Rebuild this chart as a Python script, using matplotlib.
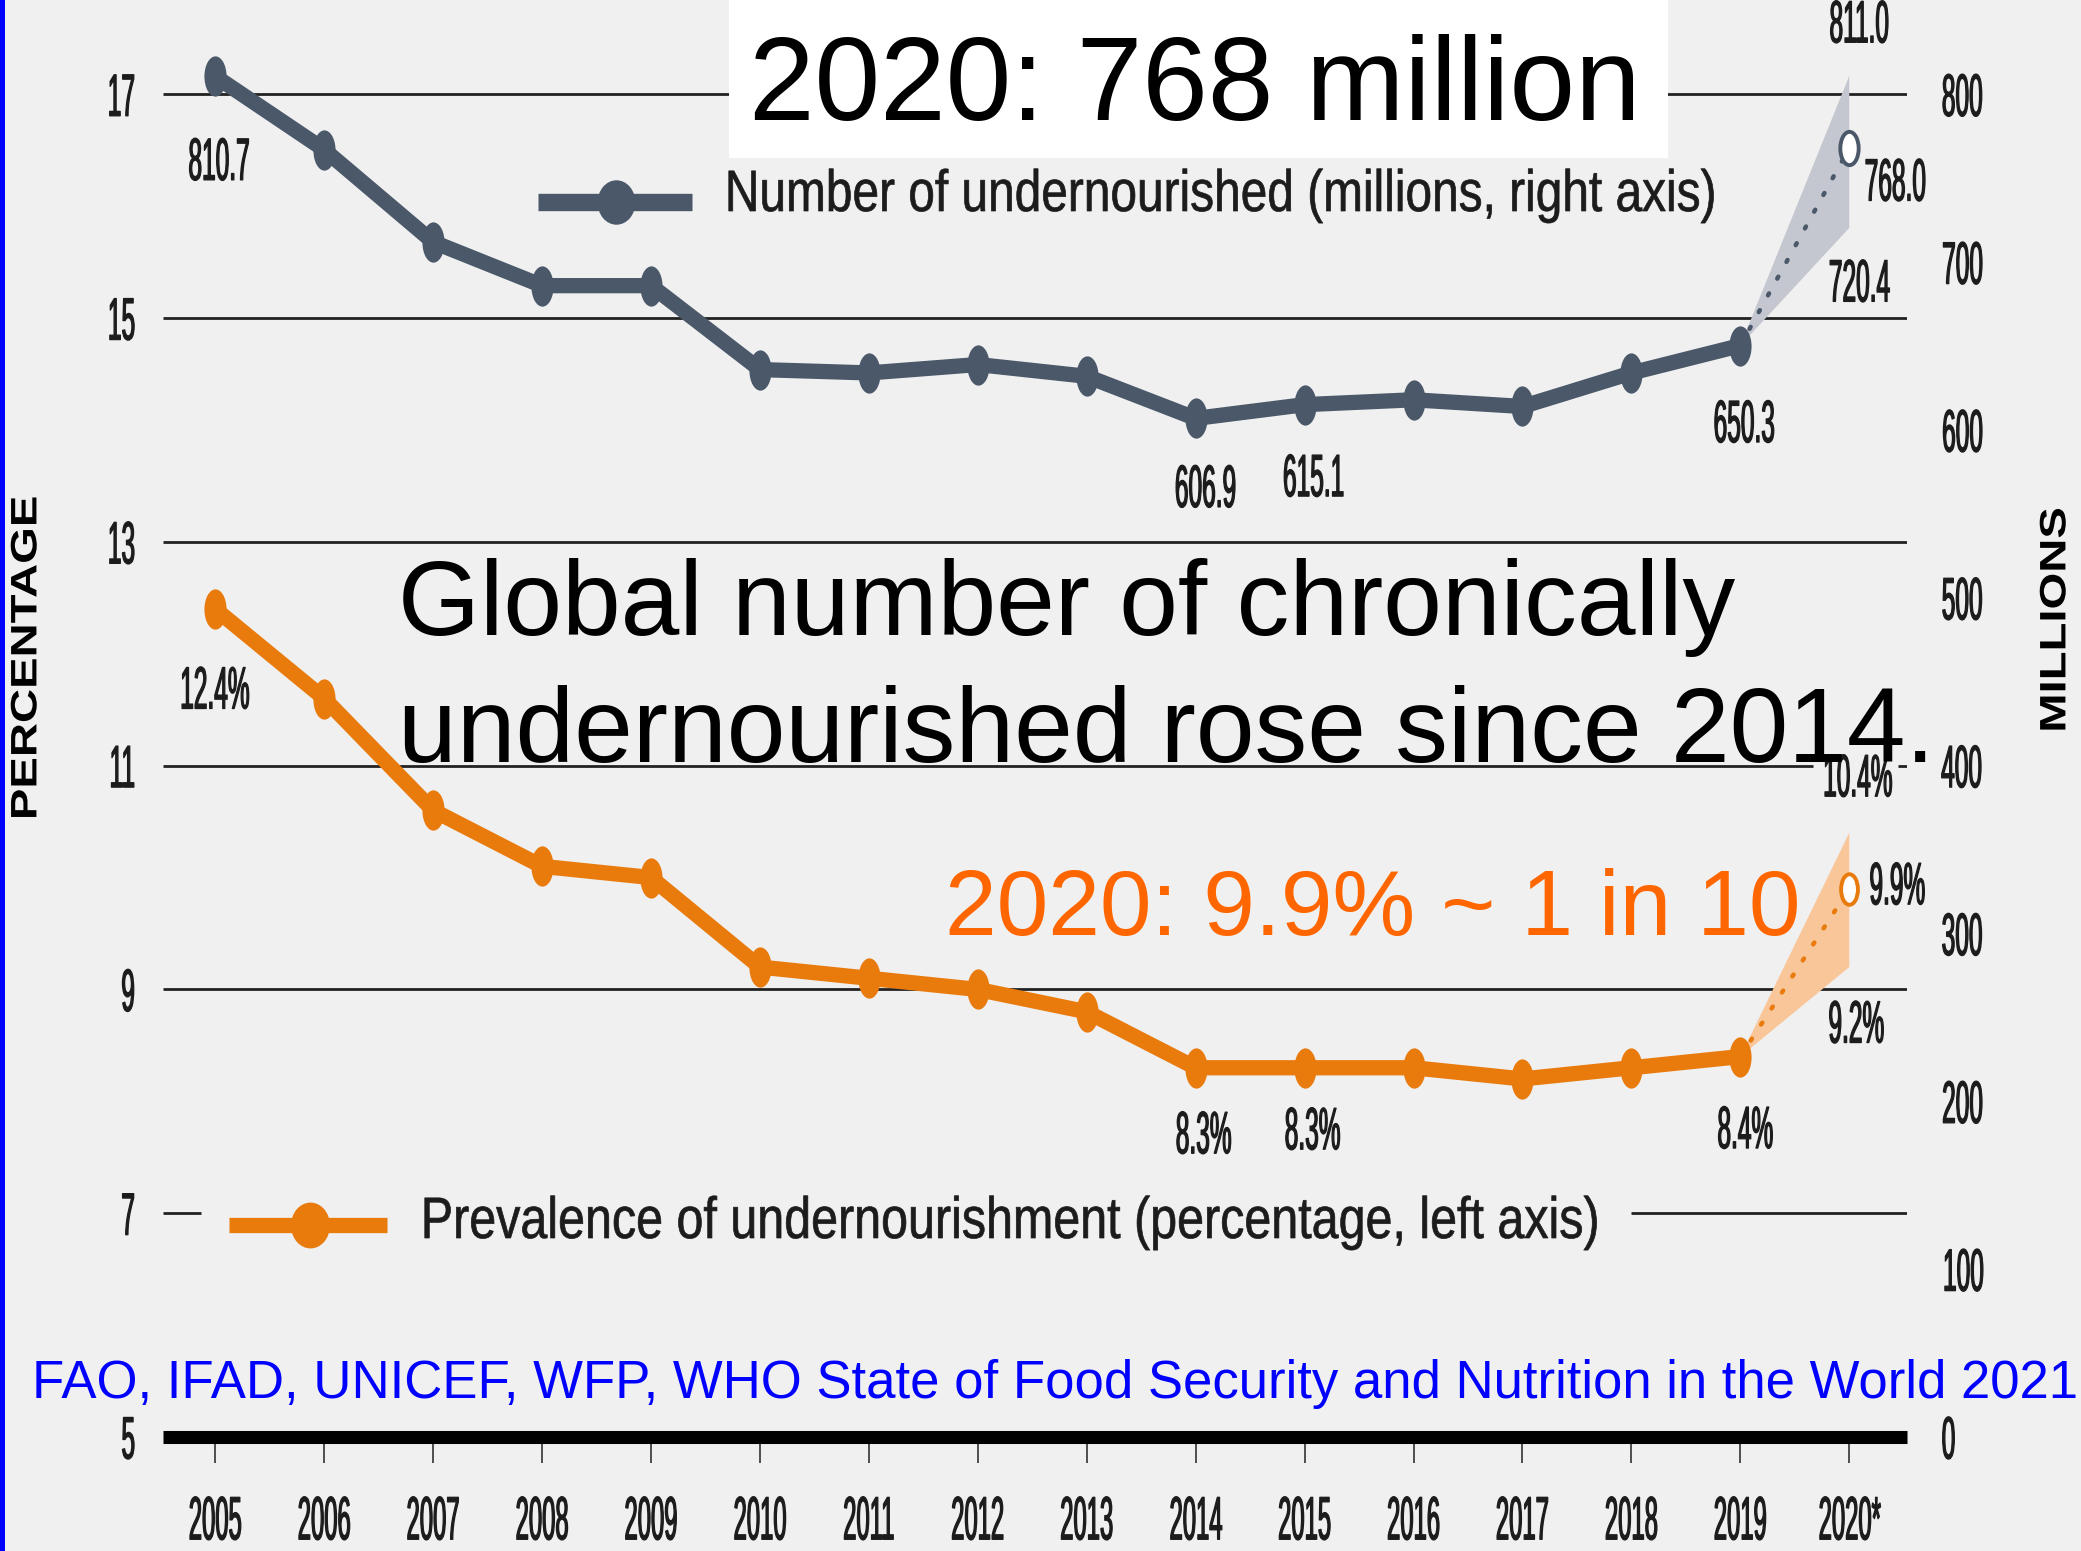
import numpy as np
import matplotlib
matplotlib.use("Agg")
import matplotlib.pyplot as plt
from matplotlib.lines import Line2D
from matplotlib.patches import Rectangle
from matplotlib.path import Path
from matplotlib.patheffects import AbstractPathEffect
from matplotlib.transforms import Affine2D

# SOFI 2021: undernourishment, 2005-2019 plus 2020 projection with range
years = list(range(2005, 2020))
year_labels = [str(y) for y in years] + ["2020*"]
undernourished = [810.7, 767, 712, 686, 686, 636, 634, 639, 632,
                  606.9, 615.1, 618, 614, 634, 650.3]          # millions
undernourished_2020 = 768.0
undernourished_2020_lo, undernourished_2020_hi = 720.4, 811.0
prevalence = [12.4, 11.6, 10.6, 10.1, 10.0, 9.2, 9.1, 9.0, 8.8,
              8.3, 8.3, 8.3, 8.2, 8.3, 8.4]                     # percent
prevalence_2020 = 9.9
prevalence_2020_lo, prevalence_2020_hi = 9.2, 10.4

pct_ticks = [5, 7, 9, 11, 13, 15, 17]
mil_ticks = list(range(0, 801, 100))

GRAY = "#4a5869"
ORANGE = "#e97a0c"
INK = "#1c1c1c"
BG = "#f0f0f0"

plt.rcParams["font.family"] = ["Liberation Sans", "DejaVu Sans"]

W, H = 2081, 1551


def fx(x):
    return x / W


def fy(y):
    return 1 - y / H


class Squeeze(AbstractPathEffect):
    """Draw text condensed horizontally around its left/right/centre."""

    def __init__(self, sx, anchor="center", stroke=0.0):
        super().__init__()
        self.sx, self.anchor, self.stroke = sx, anchor, stroke

    def draw_path(self, renderer, gc, tpath, affine, rgbFace=None):
        box = tpath.transformed(affine).get_extents()
        if self.anchor == "left":
            x0 = box.x0
        elif self.anchor == "right":
            x0 = box.x1
        else:
            x0 = 0.5 * (box.x0 + box.x1)
        t = affine + Affine2D().translate(-x0, 0).scale(self.sx, 1).translate(x0, 0)
        gc0 = renderer.new_gc()
        gc0.copy_properties(gc)
        if self.stroke and rgbFace is not None:
            gc0.set_linewidth(self.stroke)
            gc0.set_foreground(rgbFace)
        else:
            gc0.set_linewidth(0)
        renderer.draw_path(gc0, tpath, t, rgbFace)
        gc0.restore()


NUM_SQ = 0.41
NUM_STROKE = 0.9
ellipse = Path.unit_circle().transformed(Affine2D().scale(0.55, 1))
round_ell = Path.unit_circle().transformed(Affine2D().scale(0.85, 1))

fig = plt.figure(figsize=(W / 100, H / 100), dpi=100, facecolor=BG)
ax = fig.add_axes([fx(163), fy(1437), (1907 - 163) / W, 1437 / H])
ax.set_facecolor("none")
ax.set_xlim(2004.52, 2020.53)
ax.set_ylim(5, 17.843)
ax2 = ax.twinx()
ax2.set_ylim(0, 856.2)
for a in (ax, ax2):
    for s in a.spines.values():
        s.set_visible(False)

# horizontal rules, some broken where labels sit
x_l, x_r = 2004.52, 2020.53
rules = {17: [(x_l, x_r)], 15: [(x_l, x_r)], 13: [(x_l, x_r)],
         11: [(x_l, 2019.67), (2020.45, x_r)], 9: [(x_l, x_r)],
         7: [(x_l, 2004.87), (2018.0, x_r)]}
for v, segs in rules.items():
    for a0, a1 in segs:
        ax.hlines(v, a0, a1, color="#222222", lw=2.0, zorder=1)
ax.axhline(5, color="black", lw=9.4, solid_capstyle="butt", zorder=2, clip_on=False)

# projection ranges
ax.fill([2019, 2020, 2020], [prevalence[-1], prevalence_2020_hi, prevalence_2020_lo],
        color="#f9c69a", lw=0, zorder=2)
ax2.fill([2019, 2020, 2020], [undernourished[-1], undernourished_2020_hi, undernourished_2020_lo],
         color="#c4c7cf", lw=0, zorder=1)

# prevalence (left axis)
ax.plot(years, prevalence, color=ORANGE, lw=11, solid_joinstyle="round",
        solid_capstyle="round", marker=ellipse, ms=29, mew=0, zorder=4)
ax.plot([2019, 2020], [prevalence[-1], prevalence_2020], color=ORANGE, lw=3.2,
        linestyle=(0, (0.5, 3.8)), dash_capstyle="round", zorder=3)
ax.plot([2020], [prevalence_2020], marker=ellipse, ms=22, mfc="white",
        mec=ORANGE, mew=2.8, zorder=5)

# number undernourished (right axis)
ax2.plot(years, undernourished, color=GRAY, lw=11, solid_joinstyle="round",
         solid_capstyle="round", marker=ellipse, ms=29, mew=0, zorder=4)
ax2.plot([2019, 2020], [undernourished[-1], undernourished_2020], color=GRAY, lw=3.2,
         linestyle=(0, (0.5, 3.8)), dash_capstyle="round", zorder=3)
ax2.plot([2020], [undernourished_2020], marker=ellipse, ms=24, mfc="white",
         mec=GRAY, mew=2.8, zorder=5)

# value labels, offsets in pixels from the marker
num_offsets = {2005: (4, -88), 2014: (10, -73), 2015: (9, -76), 2019: (4, -81)}
pct_offsets = {2005: (-1, -84), 2014: (8, -70), 2015: (8, -66), 2019: (5, -76)}
lab_kw = dict(textcoords="offset pixels", ha="center", va="center", fontsize=43,
              color=INK, annotation_clip=False,
              path_effects=[Squeeze(NUM_SQ, stroke=NUM_STROKE)])
for yr, off in num_offsets.items():
    v = undernourished[years.index(yr)]
    ax2.annotate(f"{v:.1f}", (yr, v), xytext=off, **lab_kw)
for yr, off in pct_offsets.items():
    v = prevalence[years.index(yr)]
    ax.annotate(f"{v:.1f}%", (yr, v), xytext=off, **lab_kw)
for v, off in [(undernourished_2020_hi, (10, 49)), (undernourished_2020, (46, -37)),
               (undernourished_2020_lo, (10, -58))]:
    ax2.annotate(f"{v:.1f}", (2020, v), xytext=off, **lab_kw)
for v, off in [(prevalence_2020_hi, (8, 52)), (prevalence_2020, (48, 0)),
               (prevalence_2020_lo, (7, -60))]:
    ax.annotate(f"{v:.1f}%", (2020, v), xytext=off, **lab_kw)

# ticks
ax.set_xticks(list(range(2005, 2021)), year_labels)
ax.tick_params(axis="x", length=19, width=1.1, color="#222222", pad=23,
               labelsize=44, labelcolor=INK)
ax.set_yticks(pct_ticks)
ax.tick_params(axis="y", length=0, pad=19, labelsize=43, labelcolor=INK)
ax2.set_yticks(mil_ticks)
ax2.tick_params(axis="y", length=0, pad=24, labelsize=43, labelcolor=INK)
for lab in ax.get_xticklabels():
    lab.set_path_effects([Squeeze(0.39, "center", NUM_STROKE)])
for lab in ax.get_yticklabels():
    lab.set_path_effects([Squeeze(NUM_SQ, "right", NUM_STROKE)])
for lab in ax2.get_yticklabels():
    lab.set_path_effects([Squeeze(NUM_SQ, "left", NUM_STROKE)])

# axis titles
fig.text(fx(28), fy(658), "PERCENTAGE", rotation=90, ha="center", va="center",
         fontsize=34, fontweight="bold", color="black", path_effects=[Squeeze(0.78)])
fig.text(fx(2057), fy(620), "MILLIONS", rotation=90, ha="center", va="center",
         fontsize=34, fontweight="bold", color="black", path_effects=[Squeeze(0.78)])

# legend entries
fig.add_artist(Line2D([fx(538), fx(692)], [fy(202)] * 2, color=GRAY, lw=12.5,
                      solid_capstyle="butt"))
fig.add_artist(Line2D([fx(616)], [fy(202)], marker=round_ell, ms=32, color=GRAY, mew=0))
fig.text(fx(724), fy(196), "Number of undernourished (millions, right axis)",
         ha="left", va="center", fontsize=42, color=INK,
         path_effects=[Squeeze(0.82, "left", 0.5)])
fig.add_artist(Line2D([fx(229), fx(387)], [fy(1225)] * 2, color=ORANGE, lw=11,
                      solid_capstyle="butt"))
fig.add_artist(Line2D([fx(310)], [fy(1225)], marker=round_ell, ms=33, color=ORANGE, mew=0))
fig.text(fx(420), fy(1223), "Prevalence of undernourishment (percentage, left axis)",
         ha="left", va="center", fontsize=42, color=INK,
         path_effects=[Squeeze(0.83, "left", 0.5)])

# headline box
fig.add_artist(Rectangle((fx(729), fy(158)), (1668 - 729) / W, 158 / H,
                         transform=fig.transFigure, fc="white", ec="none", zorder=4))
fig.text(fx(1195), fy(120), "2020: 768 million", ha="center", va="baseline",
         fontsize=85, color="black", zorder=5)

fig.text(fx(398), fy(635), "Global number of chronically", ha="left",
         va="baseline", fontsize=76, color="black", zorder=5)
fig.text(fx(398), fy(762), "undernourished rose since 2014.", ha="left",
         va="baseline", fontsize=76, color="black", zorder=5)
fig.text(fx(945), fy(935), "2020: 9.9% ~ 1 in 10", ha="left", va="baseline",
         fontsize=67, color="#ff6600", zorder=5)

fig.text(fx(32), fy(1398), "FAO, IFAD, UNICEF, WFP, WHO State of Food Security "
         "and Nutrition in the World 2021", ha="left", va="baseline",
         fontsize=38, color="#0000ff", zorder=5)

fig.add_artist(Rectangle((0, 0), 4.5 / W, 1, transform=fig.transFigure,
                         fc="#0000ff", ec="none", zorder=10))

fig.savefig("out.png", dpi=100, facecolor=BG)
